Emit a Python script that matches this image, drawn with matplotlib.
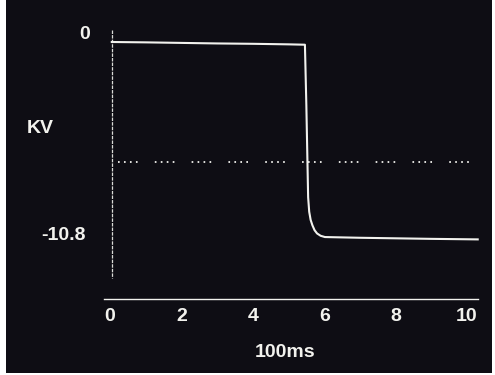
import matplotlib.pyplot as plt

plt.rcParams['lines.scale_dashes'] = False

# trace (time in 100 ms, voltage in kV)
t = [0.05, 1, 2, 3, 4, 5, 5.46, 5.50, 5.55, 5.58, 5.62, 5.67, 5.73, 5.80, 5.90, 6.02, 7, 8, 9, 10.3]
v = [0.0, -0.02, -0.05, -0.08, -0.10, -0.13, -0.15, -3.5, -8.6, -9.4, -9.85, -10.15, -10.42, -10.6, -10.73, -10.8,
     -10.84, -10.87, -10.90, -10.93]

xticks = [0, 2, 4, 6, 8, 10]
ylabels = ["0", "-10.8"]
ylevels = [0, -10.8]
ref_level = -6.64

fg = '#f2f2ee'
bg = '#0e0d14'

fig = plt.figure(figsize=(4.95, 3.75), dpi=100)
fig.patch.set_facecolor('white')

# dark screen area behind everything
back = fig.add_axes([6 / 495, 2 / 375, 486 / 495, 373 / 375], zorder=0)
back.set_facecolor(bg)
back.set_xticks([])
back.set_yticks([])
for s in back.spines.values():
    s.set_visible(False)

ax = fig.add_axes([0, 0, 1, 1], zorder=1)
ax.set_facecolor('none')
ax.axis('off')
ax.set_xlim(-110 / 35.7, 385 / 35.7)
ax.set_ylim(-(375 - 42) / 18.06, 42 / 18.06)

# axes of the screen
ax.plot([0.056, 0.056], [0.66, -13.07], color=fg, lw=0.9, ls=(0, (2.5, 0.8)), alpha=0.9)
ax.plot([-0.17, 10.31], [-14.23, -14.23], color=fg, lw=1.0)

# dotted reference line: groups of four dots
ax.plot([0.22, 10.31], [ref_level, ref_level], color=fg, lw=1.3,
        ls=(0, (1.2, 3.1, 1.2, 3.1, 1.2, 3.1, 1.2, 12.4)))

ax.plot(t, v, color=fg, lw=1.5, solid_joinstyle='round')

font = dict(family='Liberation Sans', weight='bold', size=14, color=fg)
for xt in xticks:
    ax.text(xt, -15.2, str(xt), ha='center', va='center', **font)
ax.text(-0.7, ylevels[0] + 0.4, ylabels[0], ha='center', va='center', **font)
ax.text(-1.3, ylevels[1] + 0.1, ylabels[1], ha='center', va='center', **font)
ax.text(-1.96, -4.8, "KV", ha='center', va='center', **font)
ax.text(4.9, -17.2, "100ms", ha='center', va='center', **font)

fig.savefig('out.png', dpi=100)
